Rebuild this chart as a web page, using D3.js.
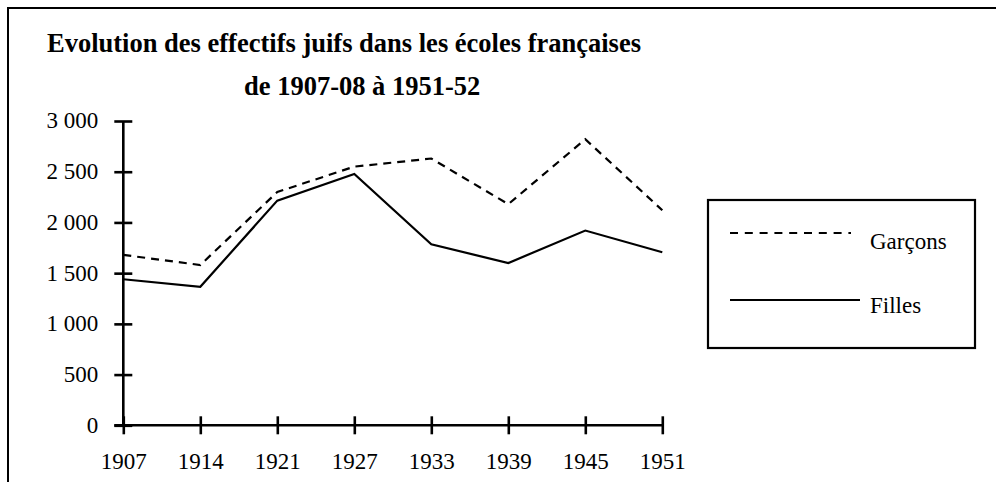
<!DOCTYPE html>
<html>
<head>
<meta charset="utf-8">
<script src="https://cdn.jsdelivr.net/npm/d3@7"></script>
<style>
  html, body { margin: 0; padding: 0; background: #fff; }
  svg { display: block; }
  text { font-family: "Liberation Serif", "Times New Roman", serif; fill: #000; }
</style>
</head>
<body>
<svg id="chart" width="996" height="482"></svg>
<script>
const years = ["1907", "1914", "1921", "1927", "1933", "1939", "1945", "1951"];
const garcons = [1680, 1580, 2300, 2550, 2630, 2180, 2820, 2120];
const filles = [1440, 1365, 2215, 2478, 1784, 1600, 1920, 1706];
const yTicks = [0, 500, 1000, 1500, 2000, 2500, 3000];
const titleLines = ["Evolution des effectifs juifs dans les écoles françaises", "de 1907-08 à 1951-52"];
const seriesNames = ["Garçons", "Filles"];

const svg = d3.select("#chart");
const W = 996, H = 482;

// outer frame (clipped at right/bottom)
svg.append("rect").attr("x", 8).attr("y", 8).attr("width", W + 20).attr("height", H + 20)
  .attr("fill", "none").attr("stroke", "#000").attr("stroke-width", 2);

const x = d3.scalePoint().domain(years).range([123.3, 662.3]);
const y = d3.scaleLinear().domain([0, 3000]).range([425.3, 121]);

const loc = d3.formatLocale({ decimal: ",", thousands: "\u00a0", grouping: [3], currency: ["", ""] });
const fmt = loc.format(",d");

// title
svg.append("text").attr("x", 47).attr("y", 52).attr("font-size", 26.5).attr("font-weight", "bold").text(titleLines[0]);
svg.append("text").attr("x", 244).attr("y", 95).attr("font-size", 26.5).attr("font-weight", "bold").text(titleLines[1]);

// y axis
const gy = svg.append("g").attr("transform", `translate(${x(years[0])},0)`)
  .call(d3.axisLeft(y).tickValues(yTicks).tickFormat(fmt).tickSize(9).tickPadding(16));
gy.select(".domain").attr("stroke", "#000").attr("stroke-width", 2.6).attr("d", `M0,${y(3000)}V${y(0)}`);
gy.selectAll(".tick line").attr("x1", -9).attr("x2", 9).attr("stroke", "#000").attr("stroke-width", 2.6);
gy.selectAll(".tick text").attr("font-size", 23).attr("font-family", "Liberation Serif").attr("fill", "#000").attr("dy", "0.3em");

// x axis
const gx = svg.append("g").attr("transform", `translate(0,${y(0)})`)
  .call(d3.axisBottom(x).tickSize(9).tickPadding(24));
gx.select(".domain").attr("stroke", "#000").attr("stroke-width", 2.6).attr("d", `M${x(years[0]) - 9},0H${x(years[years.length - 1])}`);
gx.selectAll(".tick line").attr("y1", -9).attr("y2", 9).attr("stroke", "#000").attr("stroke-width", 2.6);
gx.selectAll(".tick text").attr("font-size", 23).attr("font-family", "Liberation Serif").attr("fill", "#000").attr("dy", "0.45em");

// lines
const line = d3.line().x((d, i) => x(years[i])).y(d => y(d));
svg.append("path").datum(garcons).attr("d", line).attr("fill", "none").attr("stroke", "#000")
  .attr("stroke-width", 2.2).attr("stroke-dasharray", "8,6");
svg.append("path").datum(filles).attr("d", line).attr("fill", "none").attr("stroke", "#000")
  .attr("stroke-width", 2.2);

// legend
svg.append("rect").attr("x", 708).attr("y", 200).attr("width", 267).attr("height", 148)
  .attr("fill", "none").attr("stroke", "#000").attr("stroke-width", 2.2);
svg.append("line").attr("x1", 730).attr("x2", 851).attr("y1", 233).attr("y2", 233)
  .attr("stroke", "#000").attr("stroke-width", 2.2).attr("stroke-dasharray", "8,6.8");
svg.append("text").attr("x", 870).attr("y", 249).attr("font-size", 23).text(seriesNames[0]);
svg.append("line").attr("x1", 730).attr("x2", 860).attr("y1", 300).attr("y2", 300)
  .attr("stroke", "#000").attr("stroke-width", 2.2);
svg.append("text").attr("x", 870).attr("y", 313).attr("font-size", 23).text(seriesNames[1]);
</script>
</body>
</html>
